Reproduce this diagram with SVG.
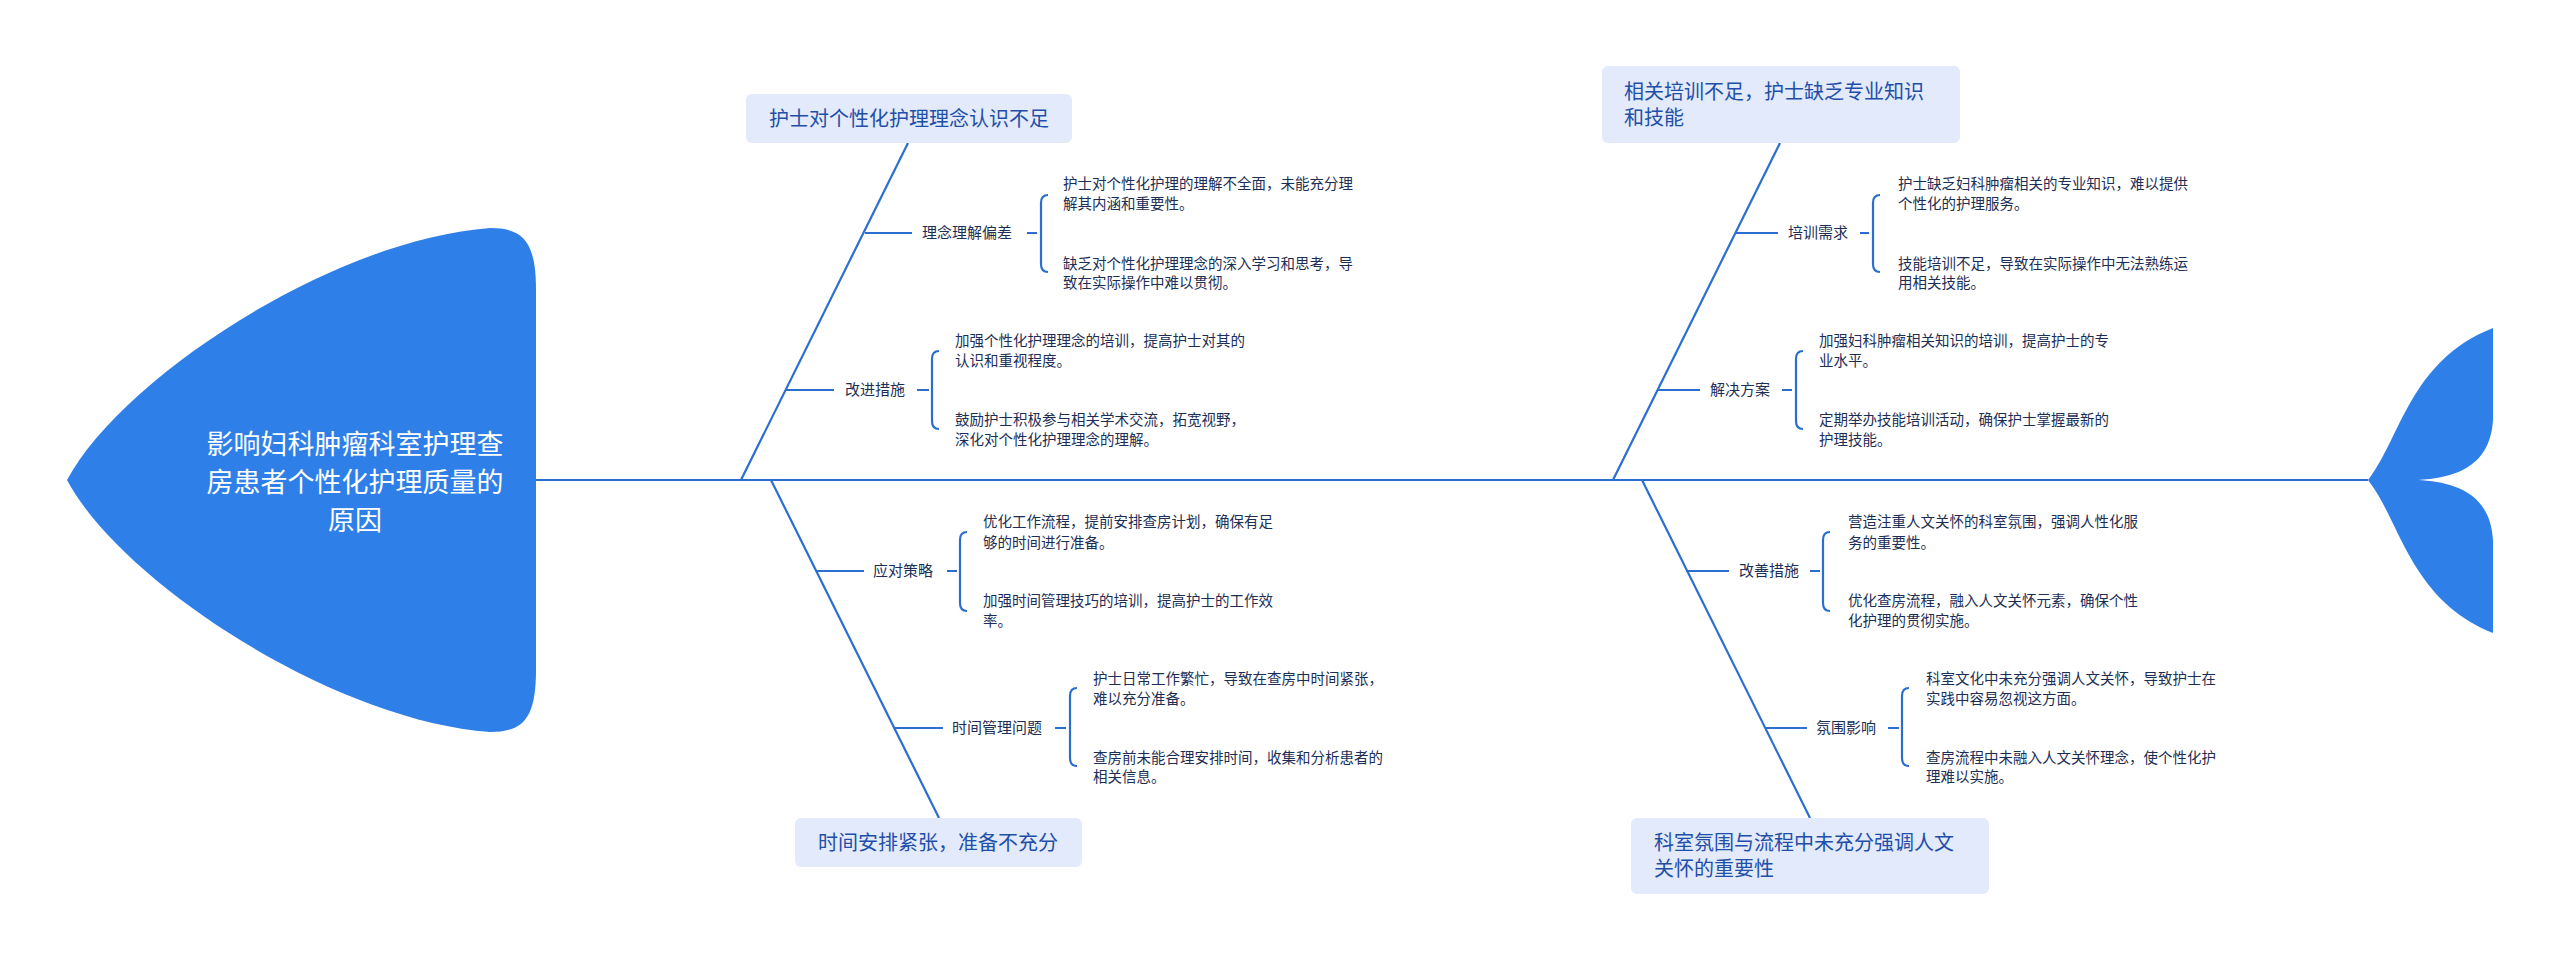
<svg xmlns="http://www.w3.org/2000/svg" width="2560" height="961" viewBox="0 0 2560 961">
<style>
.ln{stroke:#2a6fd0;stroke-width:2.2;fill:none}
.fish{fill:#2f7fe8}
.box{fill:#e2eafb}
.bt{font-family:"Noto Sans CJK SC","Noto Sans",sans-serif;font-size:20px;fill:#1f4fa8}
.lb{font-family:"Noto Sans CJK SC","Noto Sans",sans-serif;font-size:15px;fill:#1c2e55}
.tx{font-family:"Noto Sans CJK SC","Noto Sans",sans-serif;font-size:14.5px;fill:#1c2e55}
.ht{font-family:"Noto Sans CJK SC","Noto Sans",sans-serif;font-size:27px;fill:#ffffff}
</style>
<rect width="2560" height="961" fill="#ffffff"/>
<g id="connectors">
<line class="ln" x1="536" y1="480" x2="2368" y2="480"/>
<line class="ln" x1="741" y1="480" x2="908" y2="143"/>
<line class="ln" x1="771" y1="480" x2="939" y2="818"/>
<line class="ln" x1="1613" y1="480" x2="1780" y2="143"/>
<line class="ln" x1="1642" y1="480" x2="1810" y2="818"/>
<path class="ln" d="M865 233H912M1027 233H1037M1048 195Q1041 195 1041 203V264Q1041 272 1048 272"/>
<path class="ln" d="M786 390H834M917 390H929M939 351Q932 351 932 359V421Q932 429 939 429"/>
<path class="ln" d="M816 571H864M947 571H957M967 532Q960 532 960 540V603Q960 611 967 611"/>
<path class="ln" d="M894 728H943M1055 728H1066M1077 688Q1070 688 1070 696V758Q1070 766 1077 766"/>
<path class="ln" d="M1735 233H1778M1860 233H1869M1880 195Q1873 195 1873 203V264Q1873 272 1880 272"/>
<path class="ln" d="M1657 390H1700M1782 390H1792M1803 351Q1796 351 1796 359V421Q1796 429 1803 429"/>
<path class="ln" d="M1686 571H1729M1810 571H1820M1830 532Q1823 532 1823 540V603Q1823 611 1830 611"/>
<path class="ln" d="M1765 728H1807M1888 728H1899M1909 688Q1902 688 1902 696V758Q1902 766 1909 766"/>
</g>
<g id="head">
<path class="fish" d="M536 290C536 240 522 228 490 228C330 240 120 380 67 480C120 580 330 720 490 732C522 732 536 720 536 670Z"/>
<text class="ht" text-anchor="middle" x="355" y="454">影响妇科肿瘤科室护理查</text>
<text class="ht" text-anchor="middle" x="355" y="492">房患者个性化护理质量的</text>
<text class="ht" text-anchor="middle" x="355" y="530">原因</text>
</g>
<g id="tail">
<path class="fish" d="M2368 480C2400 440 2410 360 2493 328L2493 420C2490 470 2450 478 2418 480C2450 482 2490 490 2493 540L2493 633C2410 600 2400 520 2368 480Z"/>
</g>
<g id="b1">
<rect class="box" x="746" y="94" width="326" height="49" rx="6"/>
<text class="bt" x="909" y="126" text-anchor="middle">护士对个性化护理理念认识不足</text>
</g>
<g id="b1a"><text class="lb" x="922" y="238">理念理解偏差</text>
<text class="tx" x="1063" y="189">护士对个性化护理的理解不全面，未能充分理</text><text class="tx" x="1063" y="209">解其内涵和重要性。</text>
<text class="tx" x="1063" y="269">缺乏对个性化护理理念的深入学习和思考，导</text><text class="tx" x="1063" y="288">致在实际操作中难以贯彻。</text></g>
<g id="b1b"><text class="lb" x="845" y="395">改进措施</text>
<text class="tx" x="955" y="346">加强个性化护理理念的培训，提高护士对其的</text><text class="tx" x="955" y="366">认识和重视程度。</text>
<text class="tx" x="955" y="425">鼓励护士积极参与相关学术交流，拓宽视野，</text><text class="tx" x="955" y="445">深化对个性化护理理念的理解。</text></g>
<g id="b2">
<rect class="box" x="795" y="818" width="287" height="49" rx="6"/>
<text class="bt" x="938" y="850" text-anchor="middle">时间安排紧张，准备不充分</text>
</g>
<g id="b2a"><text class="lb" x="873" y="576">应对策略</text>
<text class="tx" x="983" y="527">优化工作流程，提前安排查房计划，确保有足</text><text class="tx" x="983" y="548">够的时间进行准备。</text>
<text class="tx" x="983" y="606">加强时间管理技巧的培训，提高护士的工作效</text><text class="tx" x="983" y="626">率。</text></g>
<g id="b2b"><text class="lb" x="952" y="733">时间管理问题</text>
<text class="tx" x="1093" y="684">护士日常工作繁忙，导致在查房中时间紧张，</text><text class="tx" x="1093" y="704">难以充分准备。</text>
<text class="tx" x="1093" y="763">查房前未能合理安排时间，收集和分析患者的</text><text class="tx" x="1093" y="782">相关信息。</text></g>
<g id="b3">
<rect class="box" x="1602" y="66" width="358" height="77" rx="6"/>
<text class="bt" x="1624" y="99">相关培训不足，护士缺乏专业知识</text>
<text class="bt" x="1624" y="125">和技能</text>
</g>
<g id="b3a"><text class="lb" x="1788" y="238">培训需求</text>
<text class="tx" x="1898" y="189">护士缺乏妇科肿瘤相关的专业知识，难以提供</text><text class="tx" x="1898" y="209">个性化的护理服务。</text>
<text class="tx" x="1898" y="269">技能培训不足，导致在实际操作中无法熟练运</text><text class="tx" x="1898" y="288">用相关技能。</text></g>
<g id="b3b"><text class="lb" x="1710" y="395">解决方案</text>
<text class="tx" x="1819" y="346">加强妇科肿瘤相关知识的培训，提高护士的专</text><text class="tx" x="1819" y="366">业水平。</text>
<text class="tx" x="1819" y="425">定期举办技能培训活动，确保护士掌握最新的</text><text class="tx" x="1819" y="445">护理技能。</text></g>
<g id="b4">
<rect class="box" x="1631" y="818" width="358" height="76" rx="6"/>
<text class="bt" x="1654" y="850">科室氛围与流程中未充分强调人文</text>
<text class="bt" x="1654" y="876">关怀的重要性</text>
</g>
<g id="b4a"><text class="lb" x="1739" y="576">改善措施</text>
<text class="tx" x="1848" y="527">营造注重人文关怀的科室氛围，强调人性化服</text><text class="tx" x="1848" y="548">务的重要性。</text>
<text class="tx" x="1848" y="606">优化查房流程，融入人文关怀元素，确保个性</text><text class="tx" x="1848" y="626">化护理的贯彻实施。</text></g>
<g id="b4b"><text class="lb" x="1816" y="733">氛围影响</text>
<text class="tx" x="1926" y="684">科室文化中未充分强调人文关怀，导致护士在</text><text class="tx" x="1926" y="704">实践中容易忽视这方面。</text>
<text class="tx" x="1926" y="763">查房流程中未融入人文关怀理念，使个性化护</text><text class="tx" x="1926" y="782">理难以实施。</text></g>
</svg>
